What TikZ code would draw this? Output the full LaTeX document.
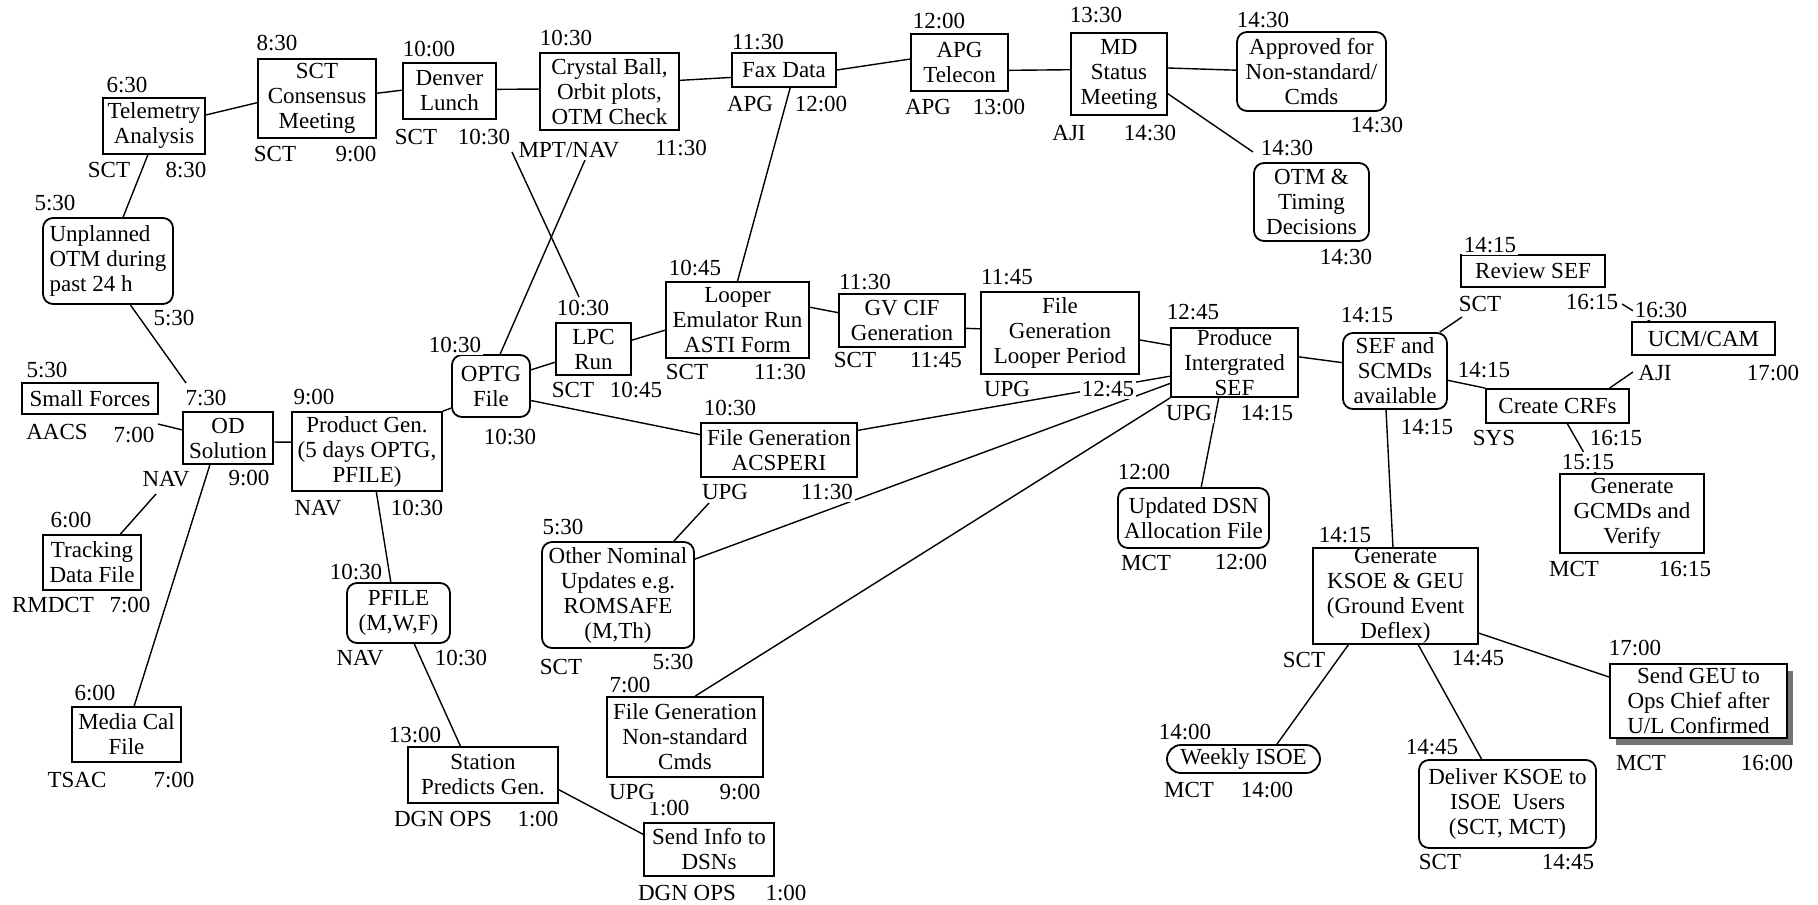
\documentclass[tikz,border=0pt]{standalone}
\usepackage{fontspec}
\setmainfont{Liberation Serif}
\usetikzlibrary{shadows}
\begin{document}
\begin{tikzpicture}[x=0.5pt,y=-0.5pt]
\tikzset{
 tf/.style={font=\fontsize{11.5}{12.5}\selectfont},
 box/.style={draw, line width=0.9pt, align=center, inner sep=0pt, fill=white, tf},
 rbox/.style={box, rounded corners=5pt},
 sz/.style 2 args={minimum width=#1*0.5pt, minimum height=#2*0.5pt},
 lab/.style={inner sep=1pt, fill=white, tf},
 conn/.style={line width=0.7pt},
 geushadow/.style={drop shadow={shadow xshift=3pt, shadow yshift=-3.5pt, fill=black!55, opacity=1}}
}
\path[use as bounding box, fill=white] (0,0) rectangle (1818,904);

% boxes
\node[box,sz={102}{56}] (tele) at (154,126) {Telemetry\\Analysis};
\node[box,sz={118}{79}] (cons) at (317,98.5) {SCT\\Consensus\\Meeting};
\node[box,sz={93}{56}] (denver) at (449.5,91) {Denver\\Lunch};
\node[box,sz={139}{77}] (crystal) at (609.5,91.5) {Crystal Ball,\\Orbit plots,\\OTM Check};
\node[box,sz={104}{34}] (fax) at (784,70) {Fax Data};
\node[box,sz={97}{57}] (apg) at (959.5,62.5) {APG\\Telecon};
\node[box,sz={96}{82}] (md) at (1119,74) {MD\\Status\\Meeting};
\node[rbox,sz={149}{79}] (approved) at (1311.5,71.5) {Approved for\\Non-standard/\\Cmds};
\node[rbox,sz={115}{78}] (otm) at (1311.5,202) {OTM \&\\Timing\\Decisions};
\node[rbox,sz={130}{86},align=left] (unplanned) at (108,261) {Unplanned\\OTM during\\past 24 h};
\node[box,sz={136}{31}] (small) at (90,398.5) {Small Forces};
\node[box,sz={90}{52}] (od) at (228,438) {OD\\Solution};
\node[box,sz={98}{55}] (tracking) at (92,562.5) {Tracking\\Data File};
\node[box,sz={109}{55}] (media) at (126.5,734.5) {Media Cal\\File};
\node[box,sz={150}{79}] (prodgen) at (367,451.5) {Product Gen.\\(5 days OPTG,\\PFILE)};
\node[rbox,sz={78}{62}] (optg) at (491,386) {OPTG\\File};
\node[box,sz={75}{52}] (lpc) at (593.5,349) {LPC\\Run};
\node[box,sz={143}{76}] (looper) at (737.5,320) {Looper\\Emulator Run\\ASTI Form};
\node[box,sz={126}{53}] (gvcif) at (902,320.5) {GV CIF\\Generation};
\node[box,sz={158}{82}] (filegen) at (1060,333) {File\\Generation\\Looper Period};
\node[box,sz={127}{69}] (produce) at (1234.5,362.5) {Produce\\Intergrated\\SEF};
\node[box,sz={156}{54}] (acsperi) at (779,450) {File Generation\\ACSPERI};
\node[rbox,sz={152}{106}] (other) at (618,595) {Other Nominal\\Updates e.g.\\ROMSAFE\\(M,Th)};
\node[rbox,sz={103}{60}] (pfile) at (398.5,613) {PFILE\\(M,W,F)};
\node[box,sz={150}{56}] (station) at (483,775) {Station\\Predicts Gen.};
\node[box,sz={130}{53}] (sendinfo) at (709,849.5) {Send Info to\\DSNs};
\node[box,sz={156}{80}] (nonstd) at (685,737) {File Generation\\Non-standard\\Cmds};
\node[rbox,sz={151}{60}] (dsn) at (1193.5,518) {Updated DSN\\Allocation File};
\node[rbox,sz={104}{76}] (sef) at (1395,371) {SEF and\\SCMDs\\available};
\node[box,sz={144}{32}] (review) at (1533,271) {Review SEF};
\node[box,sz={143}{33}] (ucm) at (1703.5,338.5) {UCM/CAM};
\node[box,sz={143}{34}] (crfs) at (1557.5,406) {Create CRFs};
\node[box,sz={144}{79}] (gcmd) at (1632,513.5) {Generate\\GCMDs and\\Verify};
\node[box,sz={165}{96}] (ksoe) at (1395.5,596) {Generate\\KSOE \& GEU\\(Ground Event\\Deflex)};
\node[box,rounded corners=7pt,sz={153}{28}] (weekly) at (1243.5,759) {Weekly ISOE};
\node[rbox,sz={177}{88}] (deliver) at (1507.5,804) {Deliver KSOE to\\ISOE\ \ Users\\(SCT, MCT)};
\node[box,sz={177}{74},geushadow] (sendgeu) at (1698.5,701) {Send GEU to\\Ops Chief after\\U/L Confirmed};

% free connector ends
\coordinate (odin) at (186,383);
\coordinate (smallout) at (158,424);
\coordinate (odnav) at (156,494);
\coordinate (denvout) at (512,152);
\coordinate (lpcin) at (579,297);
\coordinate (mptend) at (585,160);
\coordinate (otmin) at (1253,152);
\coordinate (acspout) at (709,503);
\coordinate (reviewin) at (1462,317);
\coordinate (ucmin) at (1633,372);
\coordinate (revout) at (1622,304);

% connectors
\draw[conn] (tele.12) -- (cons.184);
\draw[conn] (cons.5) -- (denver.179);
\draw[conn] (denver.2) -- (crystal.178);
\draw[conn] (crystal.9) -- (fax.188);
\draw[conn] (fax.0) -- (apg.176);
\draw[conn] (apg.-9) -- (md.175);
\draw[conn] (md.7) -- (approved.179);
\draw[conn] (md.-22) -- (otmin);
\draw[conn] (tele.258) -- (unplanned.71);
\draw[conn] (unplanned.-63) -- (odin);
\draw[conn] (smallout) -- (od.170);
\draw[conn] (odnav) -- (tracking.45);
\draw[conn] (od.236) -- (media.75);
\draw[conn] (od.-5) -- (prodgen.173);
\draw[conn] (prodgen.north east) -- (optg.209);
\draw[conn] (prodgen.-77) -- (pfile.104);
\draw[conn] (pfile.-63) -- (station.128);
\draw[conn] (station.-11) -- (sendinfo.167);
\draw[conn] (optg.74) -- (mptend);
\draw[conn] (denvout) -- (lpcin);
\draw[conn] (optg.22) -- (lpc.199);
\draw[conn] (optg.-20) -- (acsperi.169);
\draw[conn] (lpc.13) -- (looper.188);
\draw[conn] (fax.-71) -- (looper.north);
\draw[conn] (looper.10) -- (gvcif.173);
\draw[conn] (gvcif.-7) -- (filegen.177);
\draw[conn] (filegen.-5) -- (produce.165);
\draw[conn] (acsperi.14) -- (produce.192);
\draw[conn] (other.25) -- (produce.198);
\draw[conn] (nonstd.76) -- (produce.south west);
\draw[conn] (acspout) -- (other.44);
\draw[conn] (produce.246) -- (dsn.76);
\draw[conn] (produce.5) -- (sef.171);
\draw[conn] (sef.41) -- (reviewin);
\draw[conn] (sef.-10) -- (crfs.north west);
\draw[conn] (crfs.19) -- (ucmin);
\draw[conn] (revout) -- (ucm.162);
\draw[conn] (crfs.-61) -- (gcmd.132);
\draw[conn] (sef.257) -- (ksoe.93);
\draw[conn] (ksoe.226) -- (weekly.24);
\draw[conn] (ksoe.-65) -- (deliver.120);
\draw[conn] (ksoe.-24) -- (sendgeu.165);

% labels
\node[lab] (l1) at (127,85) {6:30};
\node[lab] (l2) at (109,170) {SCT};
\node[lab] (l3) at (186,170) {8:30};
\node[lab] (l4) at (277,43) {8:30};
\node[lab] (l5) at (275,154) {SCT};
\node[lab] (l6) at (356,154) {9:00};
\node[lab] (l7) at (429,49) {10:00};
\node[lab] (l8) at (416,137) {SCT};
\node[lab] (l9) at (484,137) {10:30};
\node[lab] (l10) at (566,38) {10:30};
\node[lab] (l11) at (569,150) {MPT/NAV};
\node[lab] (l12) at (681,148) {11:30};
\node[lab] (l13) at (758,42) {11:30};
\node[lab] (l14) at (750,104) {APG};
\node[lab] (l15) at (821,104) {12:00};
\node[lab] (l16) at (939,21) {12:00};
\node[lab] (l17) at (928,107) {APG};
\node[lab] (l18) at (999,107) {13:00};
\node[lab] (l19) at (1096,15) {13:30};
\node[lab] (l20) at (1069,133) {AJI};
\node[lab] (l21) at (1150,133) {14:30};
\node[lab] (l22) at (1263,20) {14:30};
\node[lab] (l23) at (1377,125) {14:30};
\node[lab] (l24) at (1287,148) {14:30};
\node[lab] (l25) at (1346,257) {14:30};
\node[lab] (l26) at (55,203) {5:30};
\node[lab] (l27) at (174,318) {5:30};
\node[lab] (l28) at (47,370) {5:30};
\node[lab] (l29) at (57,432) {AACS};
\node[lab] (l30) at (134,435) {7:00};
\node[lab] (l31) at (206,398) {7:30};
\node[lab] (l32) at (166,479) {NAV};
\node[lab] (l33) at (249,478) {9:00};
\node[lab] (l34) at (71,520) {6:00};
\node[lab] (l35) at (53,605) {RMDCT};
\node[lab] (l36) at (130,605) {7:00};
\node[lab] (l37) at (95,693) {6:00};
\node[lab] (l38) at (77,780) {TSAC};
\node[lab] (l39) at (174,780) {7:00};
\node[lab] (l40) at (314,397) {9:00};
\node[lab] (l41) at (318,508) {NAV};
\node[lab] (l42) at (417,508) {10:30};
\node[lab] (l43) at (455,345) {10:30};
\node[lab] (l44) at (510,437) {10:30};
\node[lab] (l45) at (583,308) {10:30};
\node[lab] (l46) at (573,390) {SCT};
\node[lab] (l47) at (636,390) {10:45};
\node[lab] (l48) at (695,268) {10:45};
\node[lab] (l49) at (687,372) {SCT};
\node[lab] (l50) at (780,372) {11:30};
\node[lab] (l51) at (865,282) {11:30};
\node[lab] (l52) at (855,360) {SCT};
\node[lab] (l53) at (936,360) {11:45};
\node[lab] (l54) at (1007,277) {11:45};
\node[lab] (l55) at (1007,389) {UPG};
\node[lab] (l56) at (1108,389) {12:45};
\node[lab] (l57) at (1193,312) {12:45};
\node[lab] (l58) at (1189,413) {UPG};
\node[lab] (l59) at (1267,413) {14:15};
\node[lab] (l60) at (730,408) {10:30};
\node[lab] (l61) at (725,492) {UPG};
\node[lab] (l62) at (827,492) {11:30};
\node[lab] (l63) at (563,527) {5:30};
\node[lab] (l64) at (561,667) {SCT};
\node[lab] (l65) at (673,662) {5:30};
\node[lab] (l66) at (356,572) {10:30};
\node[lab] (l67) at (360,658) {NAV};
\node[lab] (l68) at (461,658) {10:30};
\node[lab] (l69) at (415,735) {13:00};
\node[lab] (l70) at (443,819) {DGN OPS};
\node[lab] (l71) at (538,819) {1:00};
\node[lab] (l72) at (669,808) {1:00};
\node[lab] (l73) at (687,893) {DGN OPS};
\node[lab] (l74) at (786,893) {1:00};
\node[lab] (l75) at (630,685) {7:00};
\node[lab] (l76) at (632,792) {UPG};
\node[lab] (l77) at (740,792) {9:00};
\node[lab] (l78) at (1144,472) {12:00};
\node[lab] (l79) at (1146,563) {MCT};
\node[lab] (l80) at (1241,562) {12:00};
\node[lab] (l81) at (1367,315) {14:15};
\node[lab] (l82) at (1427,427) {14:15};
\node[lab] (l83) at (1490,245) {14:15};
\node[lab] (l84) at (1480,304) {SCT};
\node[lab] (l85) at (1592,302) {16:15};
\node[lab] (l86) at (1661,310) {16:30};
\node[lab] (l87) at (1655,373) {AJI};
\node[lab] (l88) at (1773,373) {17:00};
\node[lab] (l89) at (1484,370) {14:15};
\node[lab] (l90) at (1494,438) {SYS};
\node[lab] (l91) at (1616,438) {16:15};
\node[lab] (l92) at (1588,462) {15:15};
\node[lab] (l93) at (1574,569) {MCT};
\node[lab] (l94) at (1685,569) {16:15};
\node[lab] (l95) at (1345,535) {14:15};
\node[lab] (l96) at (1304,660) {SCT};
\node[lab] (l97) at (1478,658) {14:45};
\node[lab] (l98) at (1185,732) {14:00};
\node[lab] (l99) at (1189,790) {MCT};
\node[lab] (l100) at (1267,790) {14:00};
\node[lab] (l101) at (1432,747) {14:45};
\node[lab] (l102) at (1440,862) {SCT};
\node[lab] (l103) at (1568,862) {14:45};
\node[lab] (l104) at (1635,648) {17:00};
\node[lab] (l105) at (1641,763) {MCT};
\node[lab] (l106) at (1767,763) {16:00};
\end{tikzpicture}
\end{document}
